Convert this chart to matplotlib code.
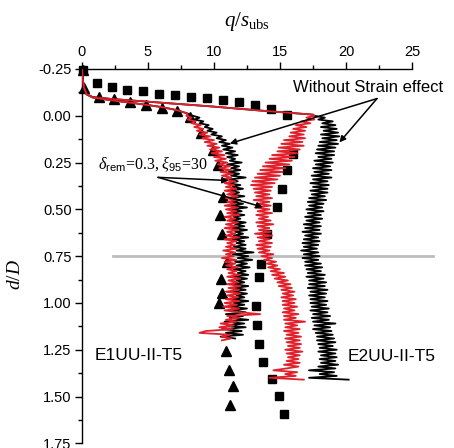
import matplotlib
matplotlib.use("Agg")
import matplotlib.pyplot as plt
from matplotlib.ticker import MultipleLocator, FormatStrFormatter

plt.rcParams['font.family'] = ['Liberation Sans', 'DejaVu Sans']
plt.rcParams['mathtext.fontset'] = 'custom'
plt.rcParams['mathtext.rm'] = 'Liberation Serif'
plt.rcParams['mathtext.it'] = 'Liberation Serif:italic'
plt.rcParams['mathtext.sf'] = 'Liberation Sans'

# essais (symboles)
tri_q = [0.1, 0.15, 1.26, 2.45, 3.66, 4.85, 6.06, 7.22, 8.2, 9.0, 9.95, 10.3, 10.7,
         10.45, 10.58, 10.96, 10.5, 10.6, 10.4, 10.93, 11.13, 11.47, 11.2]
tri_d = [-0.245, -0.149, -0.099, -0.087, -0.072, -0.059, -0.043, -0.023, 0.005, 0.09,
         0.185, 0.265, 0.434, 0.531, 0.63, 0.78, 0.872, 0.948, 1.002, 1.259, 1.357,
         1.446, 1.543]

sq_q = [0.05, 1.11, 2.27, 3.43, 4.64, 5.86, 7.07, 8.28, 9.5, 10.7, 11.9, 13.1, 14.3,
        15.5, 16.0, 15.5, 15.13, 14.8, 14.0, 13.58, 13.43, 13.16, 13.28, 13.43, 13.73,
        14.37, 14.95, 15.33]
sq_d = [-0.245, -0.174, -0.152, -0.138, -0.130, -0.119, -0.109, -0.101, -0.094, -0.085,
        -0.076, -0.059, -0.037, -0.005, 0.202, 0.291, 0.393, 0.489, 0.634, 0.794, 0.863,
        1.016, 1.119, 1.220, 1.318, 1.407, 1.495, 1.591]

# partie lisse en tete des courbes numeriques
e1_top_q = [0.0, 0.05, 0.15, 0.35, 0.8, 2.2, 4.0, 6.0, 7.2, 8.0]
e1_top_d = [-0.25, -0.2, -0.15, -0.115, -0.098, -0.083, -0.067, -0.047, -0.03, -0.012]
e2_top_q = [0.0, 0.05, 0.15, 0.35, 0.8, 2.2, 9.8, 13.5, 17.5]
e2_top_d = [-0.25, -0.2, -0.15, -0.115, -0.1, -0.09, -0.05, -0.028, -0.006]

# profondeurs communes (pas de 0.01) pour la partie bruitee
depth_grid = [0.00, 0.01, 0.02, 0.03, 0.04, 0.05, 0.06, 0.07, 0.08, 0.09,
              0.10, 0.11, 0.12, 0.13, 0.14, 0.15, 0.16, 0.17, 0.18, 0.19,
              0.20, 0.21, 0.22, 0.23, 0.24, 0.25, 0.26, 0.27, 0.28, 0.29,
              0.30, 0.31, 0.32, 0.33, 0.34, 0.35, 0.36, 0.37, 0.38, 0.39,
              0.40, 0.41, 0.42, 0.43, 0.44, 0.45, 0.46, 0.47, 0.48, 0.49,
              0.50, 0.51, 0.52, 0.53, 0.54, 0.55, 0.56, 0.57, 0.58, 0.59,
              0.60, 0.61, 0.62, 0.63, 0.64, 0.65, 0.66, 0.67, 0.68, 0.69,
              0.70, 0.71, 0.72, 0.73, 0.74, 0.75, 0.76, 0.77, 0.78, 0.79,
              0.80, 0.81, 0.82, 0.83, 0.84, 0.85, 0.86, 0.87, 0.88, 0.89,
              0.90, 0.91, 0.92, 0.93, 0.94, 0.95, 0.96, 0.97, 0.98, 0.99,
              1.00, 1.01, 1.02, 1.03, 1.04, 1.05, 1.06, 1.07, 1.08, 1.09,
              1.10, 1.11, 1.12, 1.13, 1.14, 1.15, 1.16, 1.17, 1.18, 1.19,
              1.20, 1.21, 1.22, 1.23, 1.24, 1.25, 1.26, 1.27, 1.28, 1.29,
              1.30, 1.31, 1.32, 1.33, 1.34, 1.35, 1.36, 1.37, 1.38, 1.39,
              1.40, 1.41]

e1_black_q = [8.4, 8.9, 8.5, 9.2, 8.9, 9.6, 9.3, 9.9, 9.5, 10.2,
              9.8, 10.6, 10.2, 10.9, 10.4, 11.2, 10.6, 11.4, 10.7, 11.6,
              10.9, 11.8, 11.0, 11.6, 11.2, 12.1, 11.0, 11.9, 11.3, 12.0,
              11.1, 11.9, 11.3, 12.4, 11.2, 11.8, 11.0, 12.0, 11.4, 12.2,
              11.2, 11.9, 11.3, 12.3, 11.1, 12.0, 11.4, 12.2, 11.3, 12.5,
              11.4, 12.1, 11.2, 12.3, 11.5, 12.0, 11.3, 12.4, 11.6, 12.3,
              11.4, 12.5, 11.6, 12.2, 11.5, 12.6, 11.4, 12.3, 11.7, 12.4,
              11.5, 12.4, 11.7, 13.0, 11.4, 12.6, 11.8, 12.9, 11.6, 12.5,
              11.7, 12.7, 11.5, 12.4, 11.8, 12.6, 11.4, 12.5, 11.7, 12.3,
              11.5, 12.6, 11.6, 12.4, 11.3, 12.5, 11.7, 12.3, 11.4, 12.6,
              11.5, 12.3, 11.2, 12.5, 11.3, 12.4, 10.9, 12.2, 11.2, 12.6,
              10.8, 12.3, 11.0, 12.4, 10.6, 12.1, 10.9, 12.2, 10.5, 11.6]
e1_red_q = [7.9, 8.3, 8.0, 8.6, 8.3, 9.0, 8.5, 9.2, 8.7, 9.5,
            8.9, 9.7, 9.1, 10.0, 9.3, 10.2, 9.5, 10.4, 9.7, 10.6,
            9.8, 10.8, 10.0, 10.9, 10.1, 11.0, 10.3, 11.2, 10.4, 11.3,
            10.5, 11.4, 10.6, 11.3, 10.7, 11.6, 10.8, 11.5, 10.9, 11.7,
            10.8, 11.6, 11.0, 11.8, 10.9, 11.7, 11.0, 11.6, 10.8, 11.8,
            10.9, 11.7, 11.0, 11.9, 10.8, 11.6, 11.0, 11.8, 10.9, 11.7,
            10.8, 11.8, 11.0, 11.6, 10.9, 11.9, 10.8, 11.7, 11.0, 11.6,
            10.9, 11.7, 10.7, 11.6, 10.9, 11.5, 10.6, 11.7, 10.8, 11.6,
            10.9, 11.8, 11.0, 11.7, 11.1, 11.9, 11.0, 12.0, 11.1, 11.8,
            11.0, 12.0, 11.1, 11.9, 10.9, 12.0, 11.0, 11.8, 10.9, 11.9,
            10.8, 11.7, 10.7, 11.9, 10.8, 12.0, 13.5, 11.0, 11.9, 10.9,
            11.7, 10.5, 11.5, 10.4, 11.4, 9.4, 8.9, 11.2, 10.6, 11.3,
            10.6]
e2_red_q = [17.6, 17.0, 17.6, 16.6, 17.3, 16.2, 17.0, 16.0, 16.9, 15.8,
            16.8, 15.7, 16.9, 15.3, 16.7, 15.1, 16.8, 14.9, 16.5, 14.8,
            16.3, 14.4, 16.1, 14.2, 15.9, 13.9, 15.7, 13.7, 15.4, 13.5,
            15.2, 13.3, 15.0, 13.1, 14.8, 12.9, 14.6, 12.8, 14.4, 13.0,
            14.3, 13.1, 14.2, 13.2, 14.4, 13.0, 14.2, 13.3, 14.3, 13.1,
            14.2, 13.3, 14.4, 13.2, 14.1, 13.4, 14.3, 13.2, 14.5, 13.3,
            14.2, 13.4, 14.3, 13.1, 14.4, 13.3, 14.2, 13.4, 14.4, 13.2,
            14.3, 13.3, 14.2, 13.4, 14.5, 13.6, 14.4, 13.8, 14.7, 14.0,
            14.8, 14.1, 15.0, 14.3, 15.3, 14.4, 15.4, 14.6, 15.6, 14.8,
            15.8, 14.9, 15.9, 15.1, 16.1, 15.2, 16.0, 15.1, 16.2, 15.2,
            16.1, 15.2, 16.3, 15.3, 16.1, 15.2, 16.4, 15.3, 16.2, 15.3,
            16.9, 15.4, 16.3, 15.4, 16.5, 15.3, 16.4, 15.5, 16.6, 15.4,
            16.5, 15.5, 16.6, 15.6, 16.5, 15.4, 16.7, 15.5, 16.5, 15.6,
            16.4, 15.5, 16.5, 15.3, 16.4, 15.5, 14.5, 16.3, 15.4, 16.2,
            14.2, 16.8]
e2_black_q = [17.6, 18.4, 17.9, 19.0, 18.2, 19.2, 18.1, 19.3, 18.3, 19.4,
              18.1, 19.5, 18.2, 19.3, 18.0, 19.4, 17.9, 19.2, 17.8, 19.1,
              17.7, 19.1, 17.9, 18.9, 17.6, 19.0, 17.7, 18.8, 17.5, 18.9,
              17.6, 18.7, 17.4, 18.9, 17.5, 18.6, 17.3, 18.7, 17.5, 18.6,
              17.3, 18.6, 17.4, 18.4, 17.2, 18.5, 17.1, 18.3, 17.2, 18.2,
              17.0, 18.3, 17.1, 18.1, 16.9, 18.2, 17.0, 18.0, 16.8, 18.1,
              16.9, 18.0, 16.7, 18.1, 16.9, 17.9, 16.8, 18.0, 16.7, 17.9,
              16.8, 17.8, 16.6, 17.9, 16.8, 18.0, 16.7, 17.9, 16.9, 18.1,
              16.9, 18.2, 17.0, 18.1, 17.1, 18.4, 17.0, 18.3, 17.2, 18.5,
              17.2, 18.4, 17.1, 18.6, 17.3, 18.5, 17.2, 18.4, 17.3, 18.6,
              17.3, 18.5, 17.4, 18.7, 17.3, 18.6, 17.5, 18.8, 17.4, 18.7,
              17.5, 19.2, 17.6, 18.8, 17.5, 18.9, 17.7, 19.0, 17.8, 19.1,
              17.8, 19.2, 17.9, 19.0, 18.0, 19.3, 17.9, 19.2, 18.1, 19.3,
              18.0, 19.2, 18.1, 19.4, 17.9, 19.2, 17.2, 19.1, 18.0, 19.3,
              17.2, 20.2]

RED = '#e0202a'

fig = plt.figure(figsize=(4.54, 4.48), dpi=100)
ax = fig.add_axes([0.1806, 0.0105, 0.7269, 0.8355])

# ligne grise a d/D = 0.75
ax.plot([2.33, 26.6], [0.75, 0.75], color='#bdbdbd', lw=2, clip_on=False, zorder=1)

ax.plot(tri_q, tri_d, '^', color='k', ms=7.5, ls='none', clip_on=False, zorder=2)
ax.plot(sq_q, sq_d, 's', color='k', ms=6, ls='none', clip_on=False, zorder=2)

ax.plot(e2_top_q + e2_black_q, e2_top_d + depth_grid[:len(e2_black_q)],
        color='k', lw=1.3, zorder=3)
ax.plot(e2_top_q + e2_red_q, e2_top_d + depth_grid[:len(e2_red_q)],
        color=RED, lw=1.3, zorder=3)
ax.plot(e1_top_q + e1_black_q, e1_top_d + depth_grid[:len(e1_black_q)],
        color='k', lw=1.3, zorder=3)
ax.plot(e1_top_q + e1_red_q, e1_top_d + depth_grid[:len(e1_red_q)],
        color=RED, lw=1.3, zorder=3)

# annotations
arr = dict(arrowstyle='-|>', color='k', lw=1.1, mutation_scale=9, shrinkA=0, shrinkB=0)
ax.text(15.98, -0.151, "Without Strain effect", fontsize=12, ha='left', va='center')
ax.annotate("", xy=(11.2, 0.148), xytext=(22.35, -0.092), arrowprops=arr)
ax.annotate("", xy=(19.5, 0.142), xytext=(22.35, -0.092), arrowprops=arr)

ax.text(1.21, 0.287, r'$\delta_{\mathsf{rem}}\!=\!0.3,\xi_{\mathsf{95}}\!=\!30$',
        fontsize=11.5, ha='left', va='baseline')
ax.annotate("", xy=(11.1, 0.346), xytext=(5.76, 0.329), arrowprops=arr)
ax.annotate("", xy=(13.7, 0.488), xytext=(5.76, 0.329), arrowprops=arr)

ax.text(0.98, 1.283, "E1UU-II-T5", fontsize=12.5, ha='left', va='center')
ax.text(20.15, 1.285, "E2UU-II-T5", fontsize=12.5, ha='left', va='center')

# axes
ax.set_xlim(0, 25)
ax.set_ylim(1.75, -0.25)
ax.xaxis.tick_top()
ax.xaxis.set_label_position('top')
ax.xaxis.set_major_locator(MultipleLocator(5))
ax.xaxis.set_minor_locator(MultipleLocator(2.5))
ax.yaxis.set_major_locator(MultipleLocator(0.25))
ax.yaxis.set_minor_locator(MultipleLocator(0.125))
ax.yaxis.set_major_formatter(FormatStrFormatter('%.2f'))
ax.tick_params(which='major', length=5, width=1, labelsize=10.5, pad=2.5)
ax.tick_params(which='minor', length=3, width=1)
ax.spines['right'].set_visible(False)
ax.spines['bottom'].set_visible(False)
for s in ('left', 'top'):
    ax.spines[s].set_linewidth(1)

ax.set_xlabel(r'$q/s_{\rm ubs}$', fontsize=15, va='center')
ax.xaxis.set_label_coords(0.5, 1.127)
ax.set_ylabel(r'$d/D$', fontsize=14, va='center')
ax.yaxis.set_label_coords(-0.2, 0.45)

fig.savefig("out.png", dpi=100)
plt.close()
